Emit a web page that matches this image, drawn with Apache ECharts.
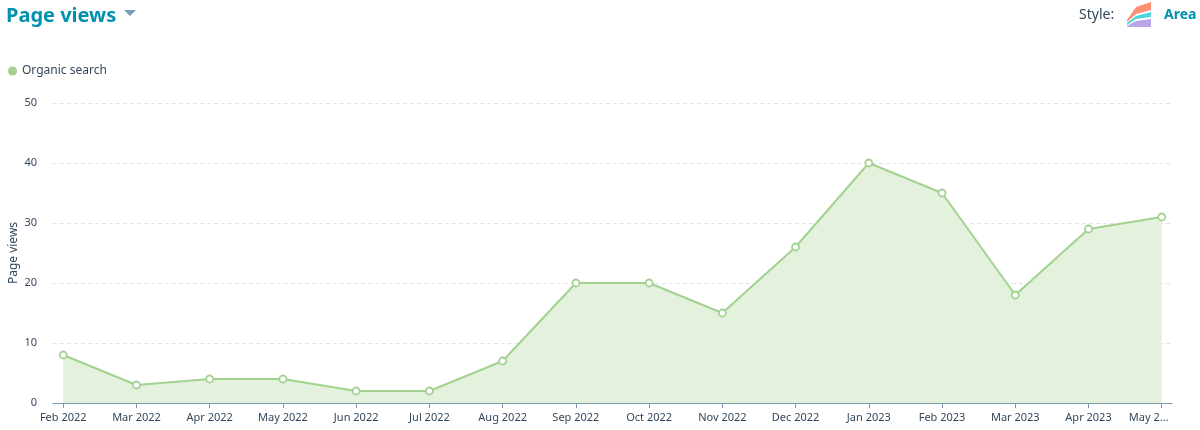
<!doctype html>
<html>
	<head>
		<meta charset="UTF-8">
		<title>Page views</title>
		<script src="https://cdn.jsdelivr.net/npm/echarts@6/dist/echarts.min.js"></script>
		<style>
			html, body { margin: 0; padding: 0; background: #fff; }
			#chart { width: 1200px; height: 430px; }
		</style>
	</head>
	<body>
		<div id="chart"></div>
		<script type="text/javascript">
			// data
			var months = ['Feb 2022', 'Mar 2022', 'Apr 2022', 'May 2022', 'Jun 2022', 'Jul 2022', 'Aug 2022', 'Sep 2022',
				'Oct 2022', 'Nov 2022', 'Dec 2022', 'Jan 2023', 'Feb 2023', 'Mar 2023', 'Apr 2023', 'May 2023'];
			var organic = [8, 3, 4, 4, 2, 2, 7, 20, 20, 15, 26, 40, 35, 18, 29, 31];
			var yTicks = [0, 10, 20, 30, 40, 50];

			var font = "'Noto Sans', Lato, sans-serif";
			var green = '#a2d28f';
			var ink = '#33475b';

			var idx = months.map(function (m, i) { return i; });
			var points = organic.map(function (v, i) { return [i, v]; });

			var chart = echarts.init(document.getElementById('chart'));
			var option = {
				backgroundColor: '#ffffff',
				animation: false,
				textStyle: { fontFamily: font },
				title: {
					left: 1,
					top: 1,
					text: 'Page views',
					textStyle: { fontSize: 20, fontWeight: 'bold', color: '#0091ae', fontFamily: font }
				},
				legend: {
					left: 3,
					top: 60,
					icon: 'circle',
					itemWidth: 9,
					itemHeight: 9,
					itemGap: 6,
					itemStyle: { color: green, borderWidth: 0 },
					textStyle: { color: ink, fontSize: 12, fontFamily: font },
					data: ['Organic search']
				},
				graphic: [
					{
						// dropdown caret next to the title
						type: 'polygon',
						shape: { points: [[124, 10], [136, 10], [130, 16]] },
						style: { fill: '#7c98b6' }
					},
					{
						type: 'text', left: 1079, top: 8,
						style: { text: 'Style:', fill: ink, fontSize: 14, fontFamily: font }
					},
					{
						// little stacked-area icon
						type: 'group', left: 1127, top: 2,
						children: [
							{ type: 'polygon', shape: { points: [[1, 18], [10, 5], [25, 0], [25, 8], [10, 12], [1, 20]] }, style: { fill: '#ff8f73' } },
							{ type: 'polygon', shape: { points: [[1, 21], [10, 14], [25, 10], [25, 15], [10, 17], [1, 23]] }, style: { fill: '#51d3d9' } },
							{ type: 'polygon', shape: { points: [[1, 25], [25, 25], [25, 17], [10, 19], [1, 24]] }, style: { fill: '#b9a6e8' } }
						]
					},
					{
						type: 'text', left: 1164, top: 8,
						style: { text: 'Area', fill: '#0091ae', fontSize: 14, fontWeight: 'bold', fontFamily: font }
					}
				],
				grid: {
					left: 53,
					right: 28,
					top: 103,
					bottom: 27,
					outerBoundsMode: 'none'
				},
				xAxis: {
					type: 'value',
					min: -0.14,
					max: 15.14,
					splitLine: { show: false },
					axisLine: { show: true, lineStyle: { color: '#7c98b6', width: 1 } },
					axisTick: {
						show: true,
						customValues: idx,
						length: 5,
						lineStyle: { color: '#7c98b6' }
					},
					axisLabel: {
						customValues: idx,
						margin: 9,
						color: ink,
						fontSize: 11,
						fontFamily: font,
						formatter: function (v) {
							var i = Math.round(v);
							var s = months[i] || '';
							// last label is clipped by the edge in the original
							if (i === months.length - 1) return '{e|' + s.slice(0, 5) + '...}';
							return s;
						},
						rich: {
							e: { fontSize: 11, color: ink, fontFamily: font, padding: [0, 26, 0, 0] }
						}
					}
				},
				yAxis: {
					type: 'value',
					min: yTicks[0],
					max: yTicks[yTicks.length - 1],
					interval: 10,
					name: 'Page views',
					nameLocation: 'middle',
					nameGap: 33,
					nameMoveOverlap: false,
					nameTextStyle: { color: ink, fontSize: 12, fontFamily: font },
					axisLine: { show: false },
					axisTick: { show: false },
					axisLabel: { color: ink, fontSize: 11, margin: 16, fontFamily: font },
					splitLine: {
						show: true,
						lineStyle: { color: '#dfe3eb', type: [4, 3], width: 1 }
					}
				},
				series: [{
					name: 'Organic search',
					type: 'line',
					data: points,
					color: green,
					symbol: 'circle',
					symbolSize: 7,
					itemStyle: { color: '#ffffff', borderColor: green, borderWidth: 1.8 },
					lineStyle: { color: green, width: 2 },
					areaStyle: { color: '#e3f1dd', opacity: 1 },
					z: 3
				}]
			};
			chart.setOption(option);
		</script>
	</body>
</html>
